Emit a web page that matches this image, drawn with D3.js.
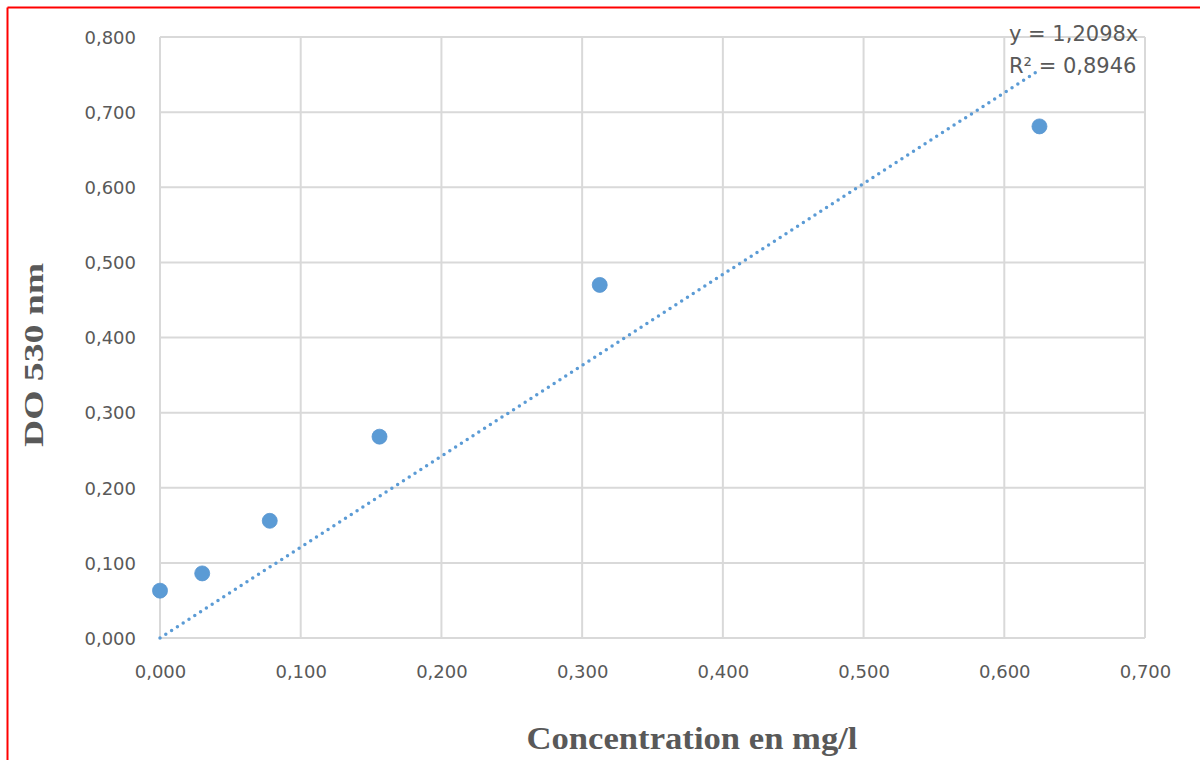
<!DOCTYPE html>
<html>
<head>
<meta charset="utf-8">
<script src="https://cdn.jsdelivr.net/npm/d3@7"></script>
<style>
    body { margin: 0; background: #fff; }
    svg { display: block; }
    .tick-label { font-family: "DejaVu Sans", sans-serif; font-size: 18px; fill: #595959; }
    .axis-title { font-family: "Liberation Serif", "Times New Roman", serif; font-weight: bold; fill: #595959; }
</style>
</head>
<body>
<div id="chart"></div>
<script>
// concentration (mg/l) and absorbance
let concentrations = [0.000, 0.030, 0.078, 0.156, 0.3125, 0.625];
let absorbances = [0.063, 0.086, 0.156, 0.268, 0.470, 0.681];
let xTicks = [0, 0.1, 0.2, 0.3, 0.4, 0.5, 0.6, 0.7];
let yTicks = [0, 0.1, 0.2, 0.3, 0.4, 0.5, 0.6, 0.7, 0.8];
let slope = 1.2098;
let equationLines = ["y = 1,2098x", "R² = 0,8946"];

let width = 1200;
let height = 760;
let margin = { left: 160, right: 55, top: 37, bottom: 122 };

let formatComma = (d) => d3.format(".3f")(d).replace(".", ",");

let svg = d3.select("#chart")
    .append("svg")
    .attr("width", width)
    .attr("height", height);

// red frame on left and top
svg.append("line")
    .attr("x1", 7.5).attr("y1", 7.5).attr("x2", width).attr("y2", 7.5)
    .attr("stroke", "#ff0000").attr("stroke-width", 2);
svg.append("line")
    .attr("x1", 7.5).attr("y1", 7.5).attr("x2", 7.5).attr("y2", height)
    .attr("stroke", "#ff0000").attr("stroke-width", 2);

let xScale = d3.scaleLinear()
    .domain([0, 0.7])
    .range([margin.left, width - margin.right]);

let yScale = d3.scaleLinear()
    .domain([0, 0.8])
    .range([height - margin.bottom, margin.top]);

// grid
svg.append("g")
    .selectAll("line")
    .data(yTicks)
    .enter()
    .append("line")
    .attr("x1", xScale(0)).attr("x2", xScale(0.7))
    .attr("y1", (d) => yScale(d)).attr("y2", (d) => yScale(d))
    .attr("stroke", "#d9d9d9").attr("stroke-width", 2);

svg.append("g")
    .selectAll("line")
    .data(xTicks)
    .enter()
    .append("line")
    .attr("x1", (d) => xScale(d)).attr("x2", (d) => xScale(d))
    .attr("y1", yScale(0)).attr("y2", yScale(0.8))
    .attr("stroke", "#d9d9d9").attr("stroke-width", 2);

// x-axis labels
let xAxis = d3.axisBottom(xScale)
    .tickValues(xTicks)
    .tickFormat(formatComma)
    .tickSize(0);

let gx = svg.append("g")
    .attr("transform", "translate(0," + yScale(0) + ")")
    .call(xAxis);
gx.select(".domain").remove();
gx.selectAll("text").attr("class", "tick-label").attr("dy", null).attr("y", 40);

// y-axis labels
let yAxis = d3.axisLeft(yScale)
    .tickValues(yTicks)
    .tickFormat(formatComma)
    .tickSize(0);

let gy = svg.append("g")
    .attr("transform", "translate(" + (margin.left - 24) + ",0)")
    .call(yAxis);
gy.select(".domain").remove();
gy.selectAll("text").attr("class", "tick-label").attr("x", 0).attr("dy", "0.35em");

// trend line through origin
let trendData = [0, d3.max(concentrations)];
let line = d3.line()
    .x((d) => xScale(d))
    .y((d) => yScale(slope * d));

svg.append("path")
    .attr("d", line(trendData))
    .attr("fill", "none")
    .attr("stroke", "#5b9bd5")
    .attr("stroke-width", 3.5)
    .attr("stroke-linecap", "round")
    .attr("stroke-dasharray", "0,6.9");

// points
svg.selectAll("circle.data-point")
    .data(concentrations)
    .enter()
    .append("circle")
    .attr("class", "data-point")
    .attr("cx", (d) => xScale(d))
    .attr("cy", (d, i) => yScale(absorbances[i]))
    .attr("r", 7.5)
    .attr("fill", "#5b9bd5")
    .attr("stroke", "#5896d0")
    .attr("stroke-width", 0.8);

// equation label
svg.append("g")
    .selectAll("text")
    .data(equationLines)
    .enter()
    .append("text")
    .attr("class", "tick-label")
    .style("font-size", "21px")
    .attr("x", 1009)
    .attr("y", (d, i) => 41 + i * 32)
    .text((d) => d);

// axis titles
svg.append("text")
    .attr("class", "axis-title")
    .attr("x", 692)
    .attr("y", 749)
    .attr("text-anchor", "middle")
    .style("font-size", "31px")
    .attr("textLength", 331)
    .attr("lengthAdjust", "spacingAndGlyphs")
    .text("Concentration en mg/l");

svg.append("text")
    .attr("class", "axis-title")
    .attr("text-anchor", "middle")
    .style("font-size", "27px")
    .attr("textLength", 184)
    .attr("lengthAdjust", "spacingAndGlyphs")
    .attr("transform", "translate(43," + 355 + ") rotate(-90)")
    .text("DO 530 nm");
</script>
</body>
</html>
